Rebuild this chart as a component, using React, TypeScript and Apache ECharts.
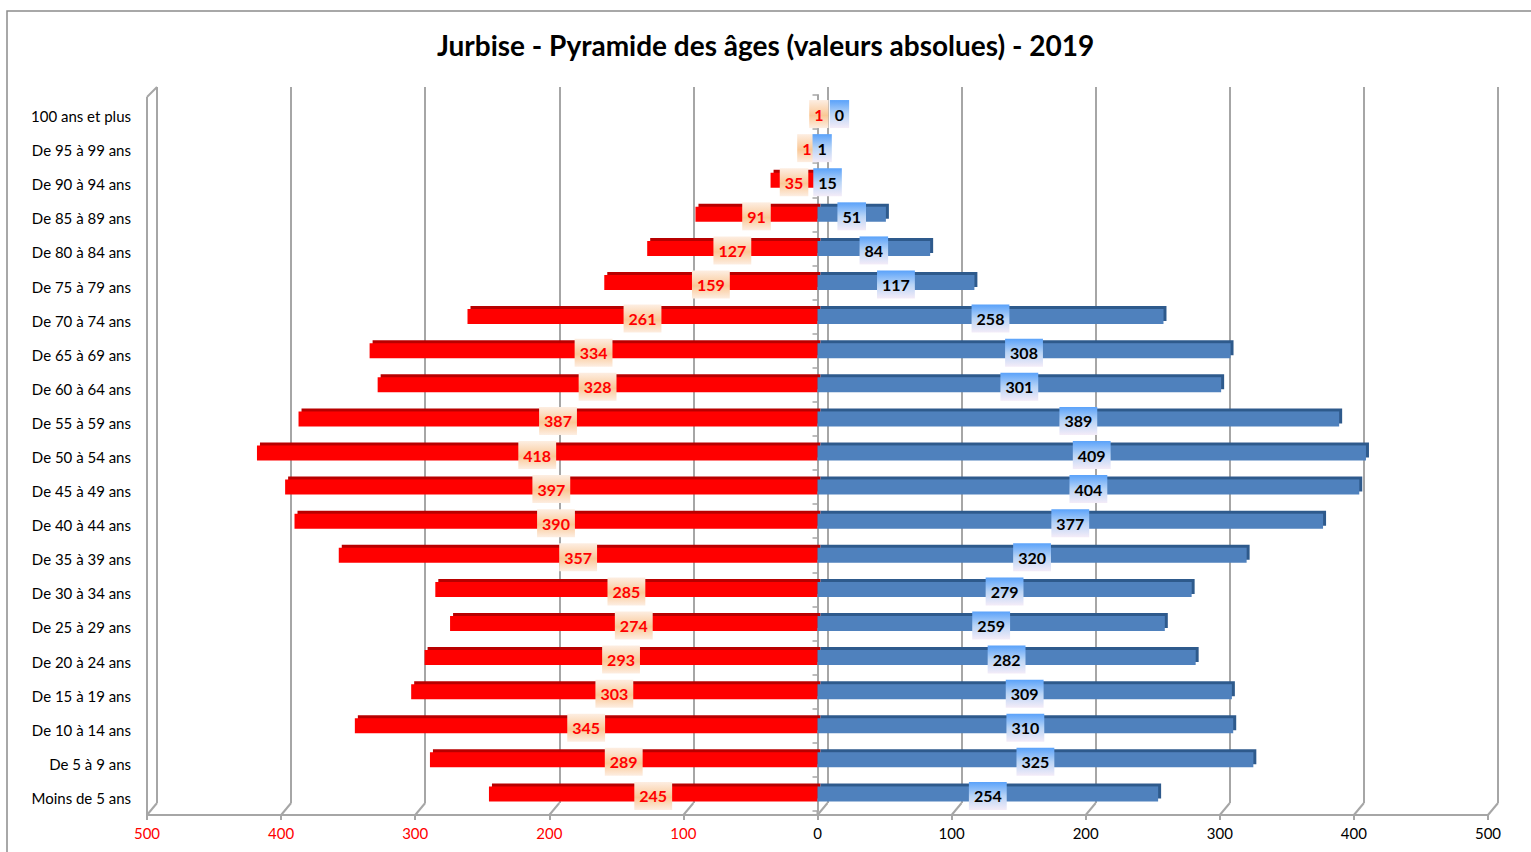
import React, { useEffect, useRef } from "react";
import * as echarts from "echarts";

const categories = [
  "Moins de 5 ans", "De 5 à 9 ans", "De 10 à 14 ans", "De 15 à 19 ans", "De 20 à 24 ans",
  "De 25 à 29 ans", "De 30 à 34 ans", "De 35 à 39 ans", "De 40 à 44 ans", "De 45 à 49 ans",
  "De 50 à 54 ans", "De 55 à 59 ans", "De 60 à 64 ans", "De 65 à 69 ans", "De 70 à 74 ans",
  "De 75 à 79 ans", "De 80 à 84 ans", "De 85 à 89 ans", "De 90 à 94 ans", "De 95 à 99 ans",
  "100 ans et plus",
];
const leftValues = [245, 289, 345, 303, 293, 274, 285, 357, 390, 397, 418, 387, 328, 334, 261, 159, 127, 91, 35, 1, 1];
const rightValues = [254, 325, 310, 309, 282, 259, 279, 320, 377, 404, 409, 389, 301, 308, 258, 117, 84, 51, 15, 1, 0];
const axisMin = -500;
const axisMax = 500;
const axisStep = 100;
const title = "Jurbise - Pyramide des âges (valeurs absolues) - 2019";

const FONT = "Lato";
const W = 1531;
const H = 852;
const G = { left: 147, right: 43, top: 95, bottom: 41 };
const BACK = { left: 157, right: 33, top: 87, bottom: 49 };
const FLOOR_OFFSET = 4;
const GRID_COLOR = "#A6A6A6";

export default function App() {
  const ref = useRef<HTMLDivElement>(null);
  useEffect(() => {
    if (!ref.current) return;
    const chart = echarts.init(ref.current, undefined, { renderer: "svg" });

    const leftData = leftValues.map((v, i) => {
      const r = rightValues[i];
      const small = v < 5 && r < 5;
      const dx = small ? (r === 0 ? 2 : -10) : 0;
      return { value: -v, label: { offset: [dx, 2] } };
    });
    const rightData = rightValues.map((v, i) => {
      const small = v < 5 && leftValues[i] < 5;
      const dx = small ? (v === 0 ? 22 : 4) : 0;
      return { value: v, label: { offset: [dx, 2] } };
    });

    const option: any = {
      animation: false,
      backgroundColor: "#ffffff",
      title: {
        text: title,
        left: "center",
        top: 26,
        textStyle: { fontFamily: FONT, fontSize: 28, fontWeight: "bold", color: "#000" },
      },
      grid: [
        { left: G.left, right: G.right, top: G.top, bottom: G.bottom },
        { left: BACK.left, right: BACK.right, top: BACK.top, bottom: BACK.bottom },
      ],
      xAxis: [
        {
          type: "value",
          gridIndex: 0,
          min: axisMin,
          max: axisMax,
          interval: axisStep,
          offset: FLOOR_OFFSET,
          axisLine: { show: true, onZero: false, lineStyle: { color: GRID_COLOR, width: 2 } },
          axisTick: { show: true, length: 5, lineStyle: { color: GRID_COLOR, width: 2 } },
          splitLine: { show: false },
          axisLabel: {
            margin: 10,
            fontFamily: FONT,
            fontSize: 15,
            color: (v: any) => (Number(v) < 0 ? "#FF0000" : "#000000"),
            formatter: (v: number) => String(Math.abs(v)),
          },
        },
        {
          type: "value",
          gridIndex: 1,
          min: axisMin,
          max: axisMax,
          interval: axisStep,
          axisLine: { show: false },
          axisTick: { show: false },
          axisLabel: { show: false },
          splitLine: { show: true, lineStyle: { color: GRID_COLOR, width: 2 } },
        },
      ],
      yAxis: [
        {
          type: "category",
          gridIndex: 0,
          data: categories,
          axisLine: { show: false, onZero: false },
          axisTick: { show: false },
          axisLabel: {
            margin: 16,
            fontFamily: FONT,
            fontSize: 15,
            color: "#000",
            formatter: (v: string) => "{c|" + v + "}",
            rich: {
              c: { fontFamily: FONT, fontSize: 15, color: "#000", padding: [8, 0, 0, 0] },
            },
          },
        },
        {
          type: "category",
          gridIndex: 0,
          data: categories,
          position: "left",
          axisLine: { show: true, onZero: true, lineStyle: { color: GRID_COLOR, width: 2 } },
          axisTick: { show: true, length: 5, lineStyle: { color: GRID_COLOR, width: 1.5 } },
          axisLabel: { show: false },
        },
        {
          type: "category",
          gridIndex: 1,
          data: categories,
          show: false,
        },
      ],
      series: [
        {
          type: "bar",
          name: "gauche",
          xAxisIndex: 0,
          yAxisIndex: 0,
          data: leftData,
          barWidth: 15,
          barGap: "-100%",
          itemStyle: {
            color: "#FF0000",
            shadowColor: "#B80000",
            shadowBlur: 0,
            shadowOffsetX: 3,
            shadowOffsetY: -3,
          },
          label: {
            show: true,
            position: "inside",
            formatter: (p: any) => String(Math.abs(p.value)),
            color: "#FF0000",
            fontFamily: FONT,
            fontSize: 16,
            fontWeight: "bold",
            padding: [7, 5, 5, 5],
            backgroundColor: new echarts.graphic.LinearGradient(0, 0, 0, 1, [
              { offset: 0, color: "#FDEEE2" },
              { offset: 0.55, color: "#FAC896" },
              { offset: 1, color: "#FDEEE2" },
            ]),
          },
          z: 3,
        },
        {
          type: "bar",
          name: "droite",
          xAxisIndex: 0,
          yAxisIndex: 0,
          data: rightData,
          barWidth: 15,
          barGap: "-100%",
          itemStyle: {
            color: "#4F81BD",
            shadowColor: "#2F5A8C",
            shadowBlur: 0,
            shadowOffsetX: 3,
            shadowOffsetY: -3,
          },
          label: {
            show: true,
            position: "inside",
            formatter: (p: any) => String(p.value),
            color: "#000000",
            fontFamily: FONT,
            fontSize: 16,
            fontWeight: "bold",
            padding: [7, 5, 5, 5],
            backgroundColor: new echarts.graphic.LinearGradient(0, 0, 0, 1, [
              { offset: 0, color: "#5AA2FA" },
              { offset: 0.5, color: "#B8D4F6" },
              { offset: 1, color: "#F4ECF8" },
            ]),
          },
          z: 3,
        },
      ],
    };
    chart.setOption(option);

    const frontBottom = H - G.bottom + FLOOR_OFFSET;
    const backBottom = H - BACK.bottom;
    const ticks: number[] = [];
    for (let v = axisMin; v <= axisMax; v += axisStep) ticks.push(v);
    const lineStyle = { stroke: GRID_COLOR, lineWidth: 2 };
    const graphics: any[] = [
      {
        type: "rect",
        shape: { x: 7, y: 11, width: W + 50, height: H + 50 },
        style: { fill: "none", stroke: "#8C8C8C", lineWidth: 1.5 },
        z: 0,
        silent: true,
      },
    ];
    ticks.forEach((v) => {
      const fx = chart.convertToPixel({ xAxisIndex: 0 } as any, v) as number;
      const bx = chart.convertToPixel({ xAxisIndex: 1 } as any, v) as number;
      graphics.push({
        type: "line",
        shape: { x1: fx, y1: frontBottom, x2: bx, y2: backBottom },
        style: lineStyle,
        z: 1,
        silent: true,
      });
    });
    const fLeft = chart.convertToPixel({ xAxisIndex: 0 } as any, axisMin) as number;
    const bLeft = chart.convertToPixel({ xAxisIndex: 1 } as any, axisMin) as number;
    const fZero = chart.convertToPixel({ xAxisIndex: 0 } as any, 0) as number;
    graphics.push({
      type: "line",
      shape: { x1: fLeft, y1: BACK.top + 10, x2: fLeft, y2: frontBottom },
      style: lineStyle,
      z: 1,
      silent: true,
    });
    graphics.push({
      type: "line",
      shape: { x1: fLeft, y1: BACK.top + 10, x2: bLeft, y2: BACK.top },
      style: lineStyle,
      z: 1,
      silent: true,
    });
    graphics.push({
      type: "line",
      shape: { x1: fZero, y1: H - G.bottom, x2: fZero, y2: frontBottom },
      style: lineStyle,
      z: 1,
      silent: true,
    });
    chart.setOption({ graphic: graphics });

    return () => chart.dispose();
  }, []);

  return (
    <div
      ref={ref}
      style={{ position: "fixed", left: 0, top: 0, width: W, height: H, background: "#fff" }}
    />
  );
}
